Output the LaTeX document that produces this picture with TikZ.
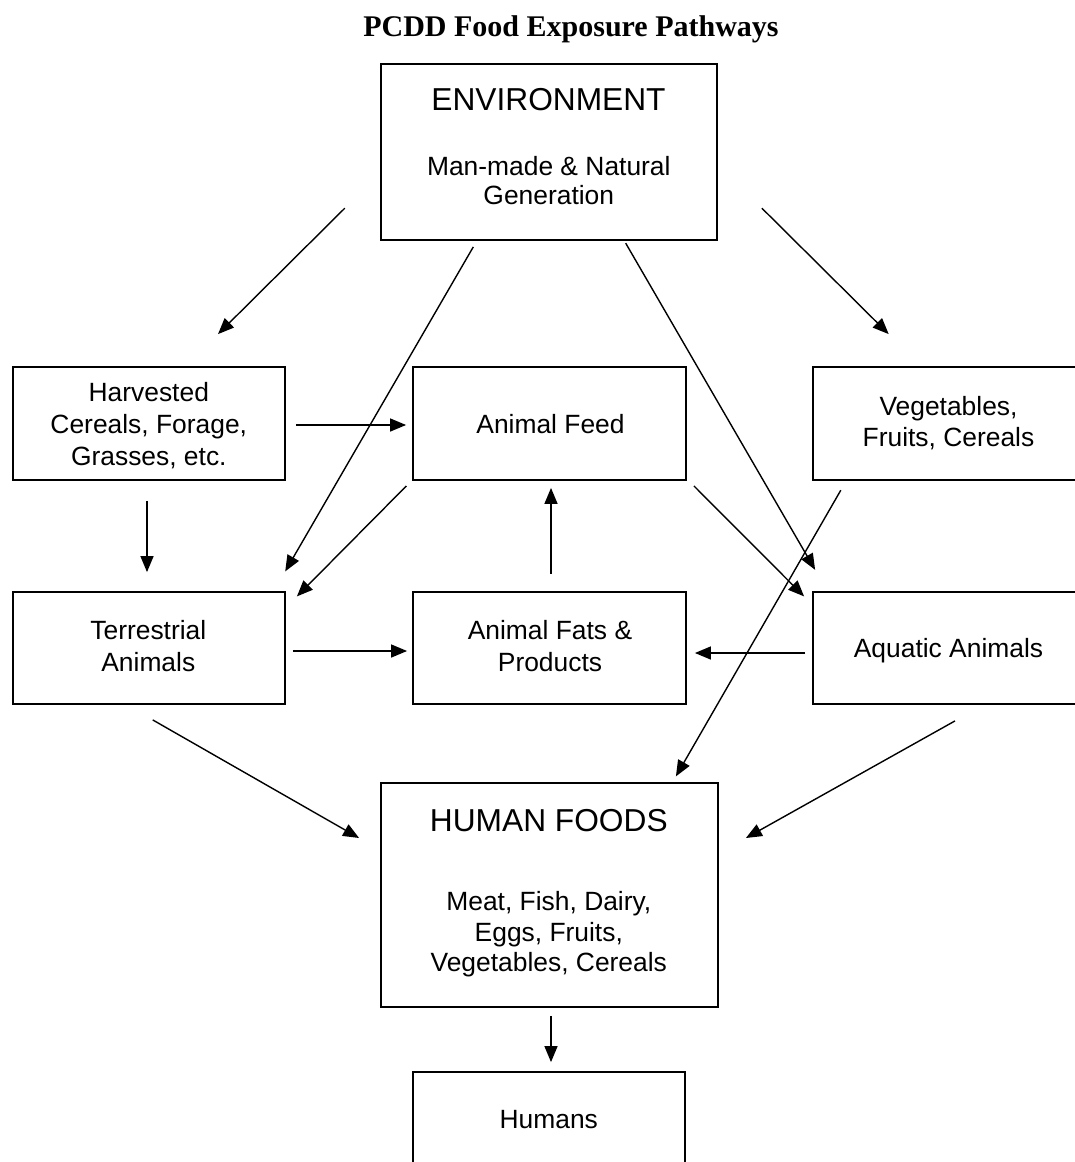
\documentclass[tikz,border=0pt]{standalone}
\usepackage{fontspec}
\setmainfont{Liberation Sans}
\newfontfamily\titlefont{Liberation Serif}
\usetikzlibrary{arrows.meta}
\begin{document}
\begin{tikzpicture}[x=1pt,y=-1pt,
  box/.style={draw, line width=1.8pt, inner sep=0pt},
  lbl/.style={anchor=base, inner sep=0pt, font=\fontsize{26.4}{31.5}\selectfont},
  hd/.style={anchor=base, inner sep=0pt, font=\fontsize{31.7}{36}\selectfont},
  arr/.style={line width=1.4pt, -{Triangle[length=16pt,width=13pt]}}]
\useasboundingbox (0,0) rectangle (1075,1162);
\clip (0,0) rectangle (1075,1162);
% title
\node[anchor=base, inner sep=0pt, font=\titlefont\bfseries\fontsize{30}{36}\selectfont] (title) at (571,36.5) {PCDD Food Exposure Pathways};
% boxes
\node[box, minimum width=336pt, minimum height=176pt] (env)  at (549,152) {};
\node[box, minimum width=272pt, minimum height=113pt] (harv) at (149,423.5) {};
\node[box, minimum width=273pt, minimum height=113pt] (feed) at (549.5,423.5) {};
\node[box, minimum width=271pt, minimum height=113pt] (veg)  at (948.5,423.5) {};
\node[box, minimum width=272pt, minimum height=112pt] (terr) at (149,648) {};
\node[box, minimum width=273pt, minimum height=112pt] (fats) at (549.5,648) {};
\node[box, minimum width=271pt, minimum height=112pt] (aqua) at (948.5,648) {};
\node[box, minimum width=337pt, minimum height=224pt] (hf)   at (549.5,895) {};
\node[box, minimum width=272pt, minimum height=113pt] (hum)  at (549,1128.5) {};
% texts
\node[hd]  (envA) at (548.5,110.7) {ENVIRONMENT};
\node[lbl] (envB) at (548.8,175.6) {Man-made \& Natural};
\node[lbl] (envC) at (548.8,204.3) {Generation};
\node[lbl] (harvA) at (148.8,401.7) {Harvested};
\node[lbl] (harvB) at (148.8,433.3) {Cereals, Forage,};
\node[lbl] (harvC) at (148.8,465) {Grasses, etc.};
\node[lbl] (feedA) at (550.5,433.3) {Animal Feed};
\node[lbl] (vegA) at (948.5,415) {Vegetables,};
\node[lbl] (vegB) at (948.5,446.5) {Fruits, Cereals};
\node[lbl] (terrA) at (148.3,639.3) {Terrestrial};
\node[lbl] (terrB) at (148.3,671) {Animals};
\node[lbl] (fatsA) at (550,639.3) {Animal Fats \&};
\node[lbl] (fatsB) at (550,671) {Products};
\node[lbl] (aquaA) at (948.5,657.7) {Aquatic Animals};
\node[hd]  (hfA) at (548.8,831.7) {HUMAN FOODS};
\node[lbl] (hfB) at (548.8,910.7) {Meat, Fish, Dairy,};
\node[lbl] (hfC) at (548.8,941) {Eggs, Fruits,};
\node[lbl] (hfD) at (548.8,971) {Vegetables, Cereals};
\node[lbl] (humA) at (548.8,1128.3) {Humans};
% connectors
\draw[arr] ([shift={(-35.3,-32.7)}]env.south west) -- ([shift={(69,-32)}]harv.north);
\draw[arr] ([shift={(44,-32.7)}]env.south east) -- ([shift={(-59.8,-32)}]veg.north);
\draw[arr] ([shift={(-75.7,6)}]env.south) -- ([shift={(-0.7,-19.7)}]terr.north east);
\draw[arr] ([shift={(76.7,2.3)}]env.south) -- ([shift={(3,-21.3)}]aqua.north west);
\draw[arr] ([shift={(-5.7,5)}]feed.south west) -- ([shift={(11,5.3)}]terr.north east);
\draw[arr] ([shift={(7,5)}]feed.south east) -- ([shift={(-8,5.3)}]aqua.north west);
\draw[arr] ([shift={(28.7,9.3)}]veg.south west) -- ([shift={(-43,-5.7)}]hf.north east);
\draw[arr] ([shift={(10,1.5)}]harv.east) -- ([shift={(-6,1.5)}]feed.west);
\draw[arr] ([shift={(-2,20)}]harv.south) -- ([shift={(-2,-19)}]terr.north);
\draw[arr] ([shift={(1.5,-17)}]fats.north) -- ([shift={(1.5,7)}]feed.south);
\draw[arr] ([shift={(7,3)}]terr.east) -- ([shift={(-5,3)}]fats.west);
\draw[arr] ([shift={(-7,5)}]aqua.west) -- ([shift={(8,5)}]fats.east);
\draw[arr] ([shift={(3.7,15)}]terr.south) -- ([shift={(-21,-57)}]hf.west);
\draw[arr] ([shift={(6.5,16)}]aqua.south) -- ([shift={(27,-57)}]hf.east);
\draw[arr] ([shift={(1.5,8)}]hf.south) -- ([shift={(2,-9)}]hum.north);
\end{tikzpicture}
\end{document}
